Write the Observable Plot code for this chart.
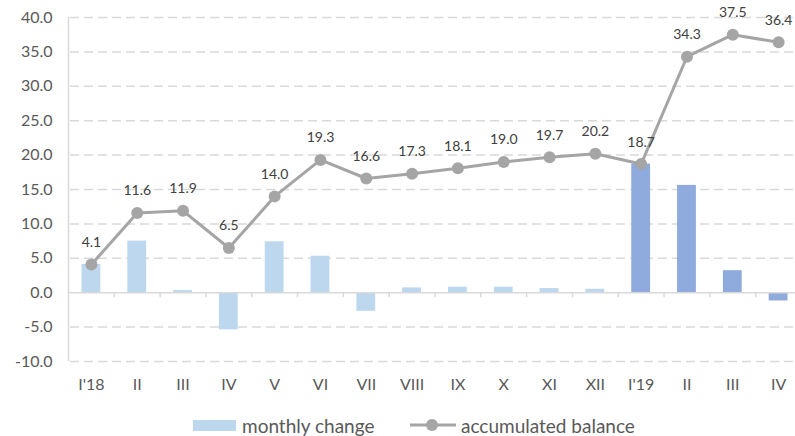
<!DOCTYPE html>
<html>
<head>
<meta charset="utf-8">
<script src="https://cdn.jsdelivr.net/npm/d3@7"></script>
<script src="https://cdn.jsdelivr.net/npm/@observablehq/plot@0.6"></script>
<style>
  html, body { margin: 0; padding: 0; background: #fff; }
  body { position: relative; width: 795px; height: 436px; overflow: hidden; font-family: Lato, "Open Sans", sans-serif; }
  #legend { position: absolute; top: 412px; left: 0; width: 795px; height: 26px; font-size: 19px; color: #595959; }
  .item { position: absolute; top: 0; height: 26px; display: flex; align-items: center; }
</style>
</head>
<body>
<div id="chart"></div>
<div id="legend">
  <div class="item" style="left:193px"><span style="display:inline-block;width:43px;height:11px;background:#BDD7EE;margin-right:6px"></span>monthly change</div>
  <div class="item" style="left:410px"><svg width="46" height="14" style="margin-right:5px"><line x1="0" y1="7" x2="46" y2="7" stroke="#A5A5A5" stroke-width="3"/><circle cx="22" cy="7" r="6" fill="#A5A5A5"/></svg>accumulated balance</div>
</div>
<script>
const months = ["I'18","II","III","IV","V","VI","VII","VIII","IX","X","XI","XII","I'19","II ","III ","IV "];
const years = [2018,2018,2018,2018,2018,2018,2018,2018,2018,2018,2018,2018,2019,2019,2019,2019];
const monthlyChange = [4.1,7.5,0.3,-5.4,7.4,5.3,-2.7,0.7,0.8,0.8,0.6,0.5,18.7,15.6,3.2,-1.2];
const accumulatedBalance = [4.1,11.6,11.9,6.5,14.0,19.3,16.6,17.3,18.1,19.0,19.7,20.2,18.7,34.3,37.5,36.4];
const yTicks = [-10,-5,0,5,10,15,20,25,30,35,40];
const yDomain = [-10, 40];

const data = months.map((m, i) => ({month: m, year: years[i], change: monthlyChange[i], balance: accumulatedBalance[i]}));

const xRange = [68, 801];
const step = (xRange[1] - xRange[0]) / months.length;
const grid = "#D9D9D9";

const chart = Plot.plot({
  width: 795,
  height: 404,
  marginTop: 17,
  marginBottom: 43,
  marginLeft: 68,
  marginRight: 0,
  style: {fontFamily: "Lato, 'Open Sans', sans-serif", background: "#fff", overflow: "visible"},
  x: {domain: months, range: xRange, padding: 0, round: false, type: "band"},
  y: {domain: yDomain},
  marks: [
    Plot.ruleY(yTicks.filter(v => v !== 0), {y: d => d, stroke: grid, strokeWidth: 1.5, strokeDasharray: "9,5", insetLeft: 2}),
    Plot.ruleX([months[0]], {x: d => d, y1: yDomain[0], y2: yDomain[1], dx: -step / 2, stroke: grid, strokeWidth: 1.5}),
    Plot.barY(data, {x: "month", y: "change", fill: d => d.year === 2018 ? "#BDD7EE" : "#8FAADC", insetLeft: 13.5, insetRight: 13.5}),
    Plot.ruleY([0], {stroke: grid, strokeWidth: 1.5}),
    Plot.ruleX(months.slice(1), {x: d => d, y1: 0, y2: 0, insetBottom: -5, dx: -step / 2, stroke: grid, strokeWidth: 1.5}),
    Plot.line(data, {x: "month", y: "balance", stroke: "#A5A5A5", strokeWidth: 3}),
    Plot.dot(data, {x: "month", y: "balance", r: 6, fill: "#A5A5A5", stroke: "none"}),
    Plot.text(data, {x: "month", y: "balance", text: d => d.balance.toFixed(1), dy: -22, fill: "#404040", fontSize: 14}),
    Plot.axisY(yTicks, {tickSize: 0, tickPadding: 16, tickFormat: d => d.toFixed(1), fontSize: 16, fill: "#595959", label: null}),
    Plot.axisX({tickSize: 0, tickPadding: 17, fontSize: 16, fill: "#595959", label: null, tickFormat: d => d.trim()})
  ]
});
document.getElementById("chart").appendChild(chart);
</script>
</body>
</html>
